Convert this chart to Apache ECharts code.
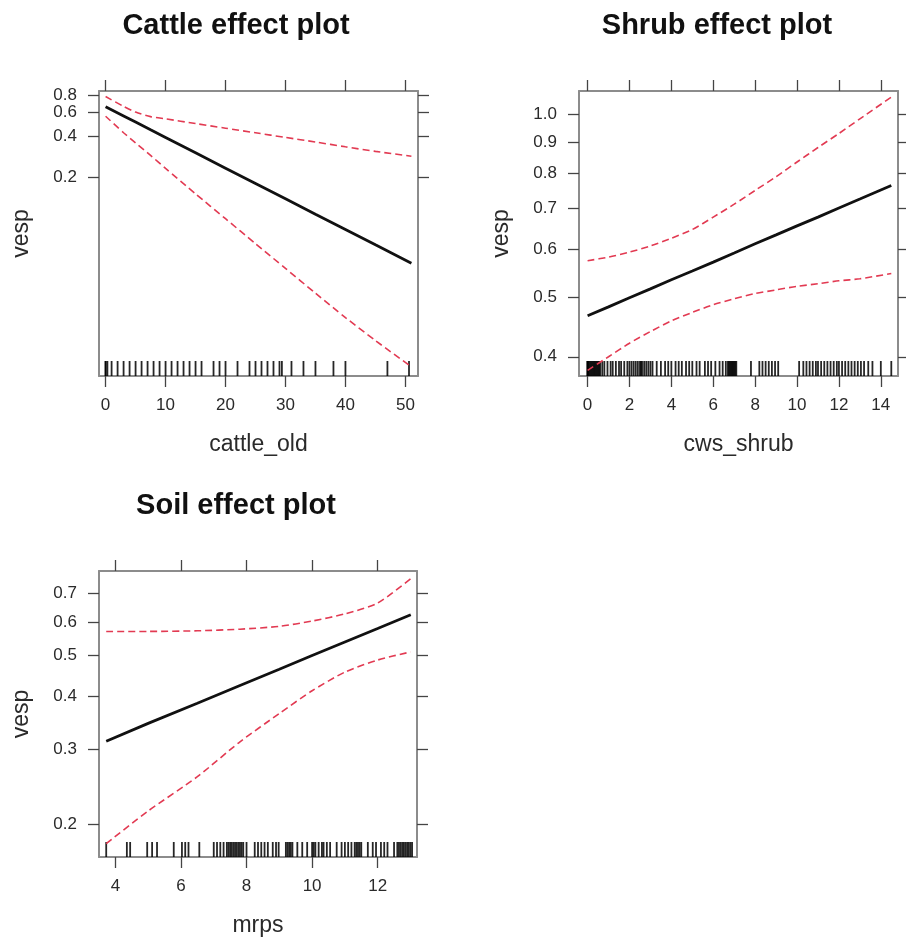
<!DOCTYPE html>
<html>
<head>
<meta charset="utf-8">
<script src="https://cdn.jsdelivr.net/npm/echarts@6/dist/echarts.min.js"></script>
<style>
  html, body { margin: 0; padding: 0; background: #fff; }
  #chart { width: 906px; height: 946px; }
</style>
</head>
<body>
<div id="chart"></div>
<script>
// cattle effect
const cattleX = [0, 3, 5, 7.5, 10, 15, 20, 25, 30, 35, 40, 45, 51]
const cattleFit = [0.657, 0.563, 0.508, 0.446, 0.392, 0.303, 0.234, 0.181, 0.140, 0.108, 0.0835, 0.0645, 0.0474]
const cattleUpper = [0.78, 0.66, 0.60, 0.556, 0.536, 0.495, 0.458, 0.424, 0.392, 0.363, 0.335, 0.31, 0.286]
const cattleLower = [0.56, 0.424, 0.358, 0.29, 0.233, 0.152, 0.100, 0.0657, 0.0434, 0.0286, 0.0190, 0.0129, 0.0083]
const cattleRug = [0, 0, 0.3, 1, 2, 3, 4, 5, 6, 7, 8, 9, 10, 11, 12, 13, 14, 15, 16, 18, 19, 20, 22, 24, 25, 26, 27, 28,
  29, 29.4, 31, 33, 35, 38, 40, 47, 50.6]
const cattleXTicks = [0, 10, 20, 30, 40, 50]
const cattleYTicks = [0.2, 0.4, 0.6, 0.8]

// shrub effect
const shrubX = [0, 1, 2, 3, 4, 5, 6, 7, 8, 9, 10, 11, 12, 13, 14.5]
const shrubFit = [0.467, 0.483, 0.500, 0.517, 0.535, 0.553, 0.572, 0.592, 0.613, 0.634, 0.656, 0.678, 0.702, 0.726, 0.764]
const shrubUpper = [0.575, 0.583, 0.594, 0.608, 0.626, 0.647, 0.678, 0.712, 0.75, 0.79, 0.835, 0.882, 0.93, 0.983, 1.067]
const shrubLower = [0.380, 0.400, 0.421, 0.440, 0.458, 0.473, 0.487, 0.498, 0.508, 0.515, 0.522, 0.527, 0.533, 0.537, 0.548]
const shrubRug = [0, 0, 0, 0.05, 0.1, 0.15, 0.2, 0.25, 0.3, 0.35, 0.4, 0.45, 0.5, 0.55, 0.6, 0.7, 0.8,
  0.95, 1.1, 1.2, 1.35, 1.5, 1.6, 1.75, 1.9,
  2.0, 2.1, 2.2, 2.3, 2.4, 2.5, 2.55, 2.6, 2.7, 2.8, 2.9, 3.0, 3.1,
  3.3, 3.5, 3.7, 3.85, 4.0, 4.2, 4.35, 4.5, 4.7, 4.85, 5.0, 5.2, 5.35, 5.6, 5.75, 5.9, 6.1, 6.3, 6.45, 6.6,
  6.7, 6.75, 6.8, 6.85, 6.9, 6.95, 7.0, 7.05, 7.1,
  7.8, 8.2, 8.35, 8.5, 8.65, 8.8, 8.95, 9.1,
  10.1, 10.3, 10.45, 10.6, 10.75, 10.9, 11.0, 11.15, 11.3, 11.45, 11.6, 11.75, 11.9, 12.0, 12.15, 12.3,
  12.45, 12.6, 12.75, 12.9, 13.05, 13.2, 13.4, 13.6, 14.0, 14.5]
const shrubXTicks = [0, 2, 4, 6, 8, 10, 12, 14]
const shrubYTicks = [0.4, 0.5, 0.6, 0.7, 0.8, 0.9, 1.0]

// soil effect
const soilX = [3.72, 5, 6.5, 7.8, 9, 10, 11, 12, 13.01]
const soilFit = [0.314, 0.346, 0.386, 0.425, 0.464, 0.500, 0.538, 0.579, 0.624]
const soilUpper = [0.570, 0.570, 0.572, 0.577, 0.586, 0.603, 0.627, 0.665, 0.759]
const soilLower = [0.180, 0.215, 0.259, 0.313, 0.365, 0.413, 0.457, 0.488, 0.510]
const soilRug = [3.72, 4.35, 4.45, 4.97, 5.12, 5.27, 5.78, 6.03, 6.13, 6.23, 6.56,
  7.0, 7.1, 7.2, 7.3, 7.4, 7.45, 7.5, 7.55, 7.6, 7.65, 7.7, 7.75, 7.8, 7.85, 7.9, 8.0,
  8.25, 8.35, 8.45, 8.55, 8.65, 8.8, 8.9, 8.98, 9.2, 9.25, 9.3, 9.35, 9.4, 9.55, 9.7, 9.85,
  10.0, 10.05, 10.1, 10.2, 10.3, 10.35, 10.45, 10.55, 10.75, 10.9, 11.0, 11.1, 11.2, 11.3, 11.35,
  11.4, 11.45, 11.5, 11.7, 11.85, 11.95, 12.1, 12.2, 12.3, 12.5, 12.6, 12.65, 12.7, 12.75, 12.8,
  12.85, 12.9, 12.95, 13.0, 13.05]
const soilXTicks = [4, 6, 8, 10, 12]
const soilYTicks = [0.2, 0.3, 0.4, 0.5, 0.6, 0.7]

const FONT = 'Liberation Sans'
const BOX = '#8c8c8c'
const TICK = '#444'
const RED = '#e23a52'

// y axes are log scale: values are plotted as ln(vesp)
const ln = v => Math.log(v)

const panels = [
  { x: cattleX, fit: cattleFit, up: cattleUpper, lo: cattleLower, rug: cattleRug,
    xTicks: cattleXTicks, yTicks: cattleYTicks, xMin: -1.1, xMax: 52.1, yMin: -4.946, yMax: -0.156,
    xName: 'cattle_old' },
  { x: shrubX, fit: shrubFit, up: shrubUpper, lo: shrubLower, rug: shrubRug,
    xTicks: shrubXTicks, yTicks: shrubYTicks, xMin: -0.41, xMax: 14.82, yMin: -0.989, yMax: 0.088,
    xName: 'cws_shrub' },
  { x: soilX, fit: soilFit, up: soilUpper, lo: soilLower, rug: soilRug,
    xTicks: soilXTicks, yTicks: soilYTicks, xMin: 3.5, xMax: 13.2, yMin: -1.787, yMax: -0.234,
    xName: 'mrps' }
]

const grids = [
  { left: 99, top: 91, width: 319, height: 285 },
  { left: 579, top: 91, width: 319, height: 285 },
  { left: 99, top: 571, width: 318, height: 286 }
]

const xAxis = []
const yAxis = []
const series = []

panels.forEach((p, i) => {
  const tick = { show: true, length: 11, lineStyle: { color: TICK, width: 1.3 } }
  const line = { show: true, onZero: false, lineStyle: { color: BOX, width: 2 } }
  // bottom + top
  xAxis.push({
    type: 'value', gridIndex: i, position: 'bottom', min: p.xMin, max: p.xMax,
    axisLine: line, splitLine: { show: false },
    axisTick: Object.assign({ customValues: p.xTicks }, tick),
    axisLabel: { customValues: p.xTicks, margin: 21, fontSize: 17, color: '#2a2a2a', fontFamily: FONT },
    name: p.xName, nameLocation: 'middle', nameGap: 57,
    nameTextStyle: { fontSize: 23, color: '#2a2a2a', fontFamily: FONT }
  })
  xAxis.push({
    type: 'value', gridIndex: i, position: 'top', min: p.xMin, max: p.xMax,
    axisLine: line, splitLine: { show: false },
    axisTick: Object.assign({ customValues: p.xTicks }, tick),
    axisLabel: { show: false }
  })
  const yt = p.yTicks.map(ln)
  // left + right
  yAxis.push({
    type: 'value', gridIndex: i, position: 'left', min: p.yMin, max: p.yMax,
    axisLine: line, splitLine: { show: false },
    axisTick: Object.assign({ customValues: yt }, tick),
    axisLabel: {
      customValues: yt, margin: 22, fontSize: 17, color: '#2a2a2a', fontFamily: FONT,
      formatter: v => Math.exp(v).toFixed(1)
    },
    name: 'vesp', nameLocation: 'middle', nameGap: 66, nameRotate: 90,
    nameTextStyle: { fontSize: 23, color: '#2a2a2a', fontFamily: FONT }
  })
  yAxis.push({
    type: 'value', gridIndex: i, position: 'right', min: p.yMin, max: p.yMax,
    axisLine: line, splitLine: { show: false },
    axisTick: Object.assign({ customValues: yt }, tick),
    axisLabel: { show: false }
  })

  const xi = i * 2
  const mk = arr => p.x.map((x, k) => [x, ln(arr[k])])
  series.push({
    type: 'line', xAxisIndex: xi, yAxisIndex: xi, data: mk(p.up), symbol: 'none', smooth: 0.25,
    lineStyle: { color: RED, width: 1.6, type: [7, 4] }, silent: true
  })
  series.push({
    type: 'line', xAxisIndex: xi, yAxisIndex: xi, data: mk(p.lo), symbol: 'none', smooth: 0.25,
    lineStyle: { color: RED, width: 1.6, type: [7, 4] }, silent: true
  })
  series.push({
    type: 'line', xAxisIndex: xi, yAxisIndex: xi, data: mk(p.fit), symbol: 'none',
    lineStyle: { color: '#111', width: 2.8 }, silent: true
  })
  // rug along the bottom of the panel
  series.push({
    type: 'scatter', xAxisIndex: xi, yAxisIndex: xi, clip: false, silent: true,
    data: p.rug.map(v => [v, p.yMin]),
    symbol: 'rect', symbolSize: [1.8, 15], symbolOffset: [0, -7.5],
    itemStyle: { color: '#000', opacity: 0.85 }
  })
})

const titleStyle = { fontSize: 29, fontWeight: 'bold', color: '#111', fontFamily: FONT }
const option = {
  animation: false,
  backgroundColor: '#fff',
  title: [
    { text: 'Cattle effect plot', left: 231, top: 6, textAlign: 'center', textStyle: titleStyle },
    { text: 'Shrub effect plot', left: 712, top: 6, textAlign: 'center', textStyle: titleStyle },
    { text: 'Soil effect plot', left: 231, top: 486, textAlign: 'center', textStyle: titleStyle }
  ],
  grid: grids,
  xAxis,
  yAxis,
  series
}

const myChart = echarts.init(document.getElementById('chart'), null, { renderer: 'canvas' })
myChart.setOption(option)
</script>
</body>
</html>
